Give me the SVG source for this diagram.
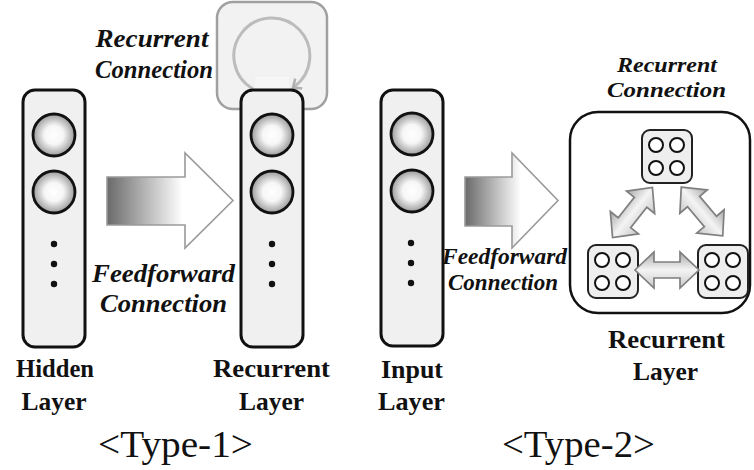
<svg xmlns="http://www.w3.org/2000/svg" xmlns:xlink="http://www.w3.org/1999/xlink" width="754" height="470" viewBox="0 0 754 470">
<style>
.col{fill:#f0f0f0;stroke:#111;stroke-width:3}
.neu{fill:url(#neuGrad);stroke:#111;stroke-width:2.8}
.dot{fill:#111}
text{font-family:'Liberation Serif','Times New Roman',Times,serif}
.lbl{font-weight:bold;font-size:25px;fill:#111;text-anchor:middle}
.conn{font-weight:bold;font-style:italic;fill:#111;text-anchor:middle}
.type{font-size:38px;fill:#111;text-anchor:middle}
.big{fill:url(#ffGrad);stroke:#9a9a9a;stroke-width:1.6}
.dbl{fill:url(#dblGrad);stroke:#7f7f7f;stroke-width:1.7}
.mini{fill:#eeeeee;stroke:#222;stroke-width:2}
.mc{fill:#fff;stroke:#111;stroke-width:2}
</style>
<defs>
<radialGradient id="neuGrad" cx="0.5" cy="0.5" r="0.5">
<stop offset="0" stop-color="#ffffff"/>
<stop offset="0.45" stop-color="#f6f6f6"/>
<stop offset="1" stop-color="#9a9a9a"/>
</radialGradient>
<linearGradient id="ffGrad" x1="0" y1="0" x2="1" y2="0">
<stop offset="0" stop-color="#6a6a6a"/>
<stop offset="0.6" stop-color="#ffffff"/>
<stop offset="1" stop-color="#ffffff"/>
</linearGradient>
<linearGradient id="dblGrad" x1="0" y1="0" x2="0" y2="1">
<stop offset="0" stop-color="#a8a8a8"/>
<stop offset="0.5" stop-color="#f4f4f4"/>
<stop offset="1" stop-color="#c8c8c8"/>
</linearGradient>
<marker id="loopHead" markerWidth="14" markerHeight="14" refX="7" refY="7" orient="auto" markerUnits="userSpaceOnUse">
<path d="M1,1 L8,7 L1,13" fill="none" stroke="#b0b0b0" stroke-width="2.5"/>
</marker>
<g id="miniBox">
<rect class="mini" x="0" y="0" width="50" height="53" rx="8"/>
<circle class="mc" cx="14" cy="15" r="7"/>
<circle class="mc" cx="35" cy="15" r="7"/>
<circle class="mc" cx="14" cy="38" r="7"/>
<circle class="mc" cx="35" cy="38" r="7"/>
</g>
<path id="dblArrow" d="M-32,0 L-13,-18 L-13,-8 L13,-8 L13,-18 L32,0 L13,18 L13,8 L-13,8 L-13,18 Z"/>
</defs>

<!-- Type-1 recurrent loop box -->
<g id="loop1">
<rect x="217" y="2" width="110" height="107" rx="16" fill="#f2f2f2" stroke="#a0a0a0" stroke-width="2.5"/>
<path d="M253,89 A38,38 0 1 1 293.8,87" fill="none" stroke="#bcbcbc" stroke-width="3" marker-end="url(#loopHead)"/>
<rect x="254" y="76" width="36" height="14" fill="#f6f6f6" stroke="#ededed" stroke-width="0.8"/>
</g>

<!-- Hidden layer -->
<g id="hidden">
<rect class="col" x="23" y="90" width="62" height="257" rx="12"/>
<circle class="neu" cx="54" cy="135" r="21"/>
<circle class="neu" cx="54" cy="192" r="21"/>
<circle class="dot" cx="54" cy="244" r="3.2"/>
<circle class="dot" cx="54" cy="264" r="3.2"/>
<circle class="dot" cx="54" cy="284" r="3.2"/>
<text class="lbl" x="55" y="377" textLength="78" lengthAdjust="spacingAndGlyphs">Hidden</text>
<text class="lbl" x="54" y="410" textLength="65" lengthAdjust="spacingAndGlyphs">Layer</text>
</g>

<!-- Recurrent layer type 1 -->
<g id="recurrent1">
<rect class="col" x="241" y="90" width="62" height="257" rx="12"/>
<circle class="neu" cx="272" cy="135" r="21"/>
<circle class="neu" cx="272" cy="192" r="21"/>
<circle class="dot" cx="272" cy="244" r="3.2"/>
<circle class="dot" cx="272" cy="264" r="3.2"/>
<circle class="dot" cx="272" cy="284" r="3.2"/>
<text class="lbl" x="271.5" y="377" textLength="117" lengthAdjust="spacingAndGlyphs">Recurrent</text>
<text class="lbl" x="271.5" y="410" textLength="65" lengthAdjust="spacingAndGlyphs">Layer</text>
</g>

<!-- Input layer -->
<g id="input">
<rect class="col" x="381" y="90" width="62" height="256" rx="12"/>
<circle class="neu" cx="412" cy="134" r="21"/>
<circle class="neu" cx="412" cy="191" r="21"/>
<circle class="dot" cx="411" cy="243" r="3.2"/>
<circle class="dot" cx="411" cy="263" r="3.2"/>
<circle class="dot" cx="411" cy="283" r="3.2"/>
<text class="lbl" x="412" y="378" textLength="62" lengthAdjust="spacingAndGlyphs">Input</text>
<text class="lbl" x="411.5" y="410" textLength="67" lengthAdjust="spacingAndGlyphs">Layer</text>
</g>

<!-- Recurrent layer type 2 -->
<g id="recurrent2">
<rect x="570" y="112" width="180" height="201" rx="28" fill="#fff" stroke="#111" stroke-width="2.5"/>
<use xlink:href="#miniBox" x="642" y="130"/>
<use xlink:href="#miniBox" x="588" y="245"/>
<use xlink:href="#miniBox" x="698" y="245"/>
<text class="lbl" x="666.5" y="348" textLength="117" lengthAdjust="spacingAndGlyphs">Recurrent</text>
<text class="lbl" x="665.5" y="380" textLength="65" lengthAdjust="spacingAndGlyphs">Layer</text>
</g>

<!-- connectors -->
<g id="connectors">
<path class="big" d="M107,177 L185,177 L185,153 L233,200.5 L185,248 L185,225 L107,225 Z"/>
<path class="big" d="M465,177 L512,177 L512,153 L558,200.5 L512,248 L512,226 L465,226 Z"/>
<use xlink:href="#dblArrow" class="dbl" transform="translate(632.5,212.5) rotate(-51.5)"/>
<use xlink:href="#dblArrow" class="dbl" transform="translate(702,211.5) rotate(49.6)"/>
<use xlink:href="#dblArrow" class="dbl" transform="translate(667,270)"/>
</g>

<!-- connection labels -->
<g id="labels">
<text class="conn" font-size="25" x="152" y="47" textLength="113" lengthAdjust="spacingAndGlyphs">Recurrent</text>
<text class="conn" font-size="25" x="154" y="78" textLength="118" lengthAdjust="spacingAndGlyphs">Connection</text>
<text class="conn" font-size="26" x="163.5" y="282" textLength="143" lengthAdjust="spacingAndGlyphs">Feedforward</text>
<text class="conn" font-size="26" x="163.5" y="312" textLength="127" lengthAdjust="spacingAndGlyphs">Connection</text>
<text class="conn" font-size="24" x="504.5" y="264" textLength="125" lengthAdjust="spacingAndGlyphs">Feedforward</text>
<text class="conn" font-size="24" x="503" y="290" textLength="110" lengthAdjust="spacingAndGlyphs">Connection</text>
<text class="conn" font-size="22" x="667" y="72" textLength="100" lengthAdjust="spacingAndGlyphs">Recurrent</text>
<text class="conn" font-size="22" x="666.5" y="97" textLength="119" lengthAdjust="spacingAndGlyphs">Connection</text>
<text class="type" x="175.5" y="457" textLength="155" lengthAdjust="spacingAndGlyphs">&lt;Type-1&gt;</text>
<text class="type" x="578.5" y="457" textLength="153" lengthAdjust="spacingAndGlyphs">&lt;Type-2&gt;</text>
</g>
</svg>
